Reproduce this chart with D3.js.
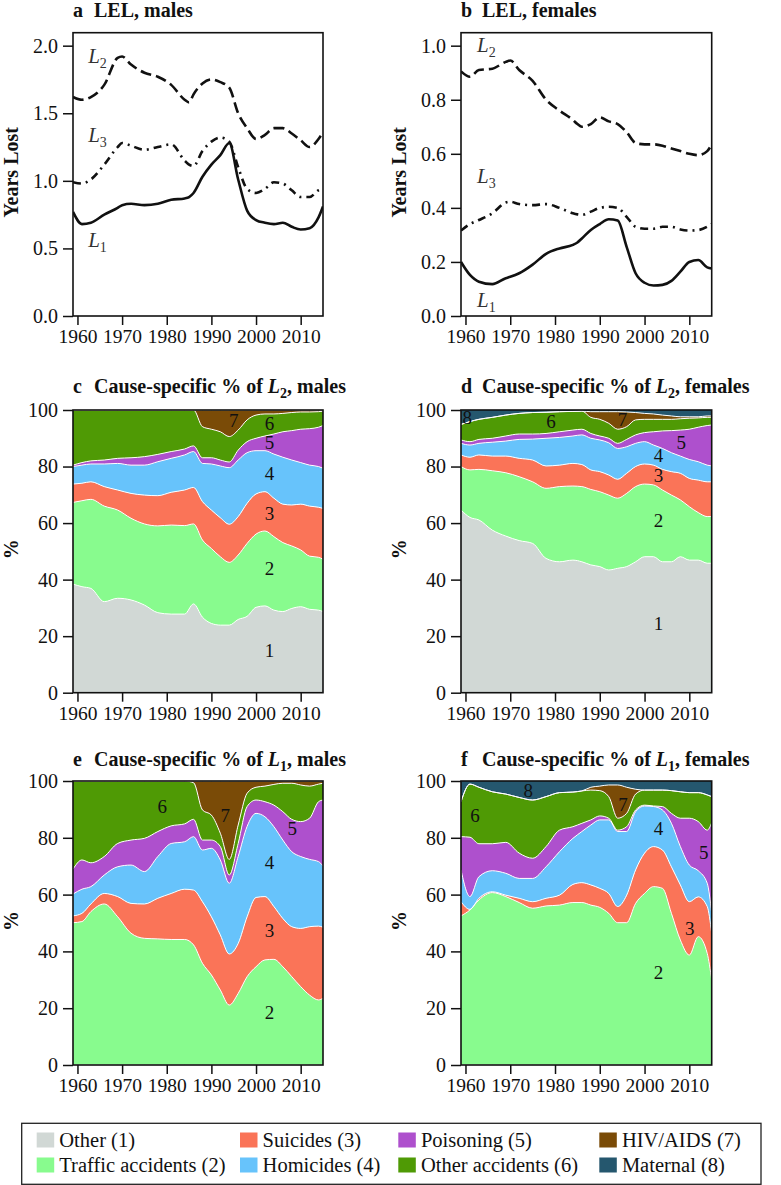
<!DOCTYPE html>
<html><head><meta charset="utf-8">
<script src="https://cdn.jsdelivr.net/npm/d3@7"></script>
<style>
body{margin:0;background:#fff}
</style></head><body>
<svg id="chart" width="781" height="1185" font-family="'Liberation Serif','DejaVu Serif',serif"></svg>
<script>
// ---------------- DATA ----------------
const yearsL = [1959,1961,1963,1966,1969,1970,1972,1975,1978,1981,1984,1985,1986,1988,1990,1992,1994,1996,1998,2000,2002,2004,2006,2008,2010,2012,2014,2015];
const L1_males   = [0.77,0.68,0.69,0.75,0.80,0.82,0.83,0.82,0.83,0.86,0.87,0.88,0.91,1.03,1.12,1.19,1.28,1.01,0.78,0.71,0.69,0.68,0.69,0.66,0.64,0.65,0.73,0.81];
const L2_males   = [1.62,1.60,1.62,1.71,1.91,1.92,1.86,1.80,1.77,1.71,1.60,1.58,1.64,1.72,1.75,1.73,1.69,1.50,1.39,1.31,1.34,1.39,1.39,1.35,1.30,1.25,1.31,1.36];
const L3_males   = [0.99,0.98,1.01,1.12,1.25,1.28,1.26,1.23,1.25,1.27,1.15,1.12,1.11,1.22,1.29,1.32,1.29,1.10,0.94,0.91,0.94,0.99,0.98,0.93,0.88,0.88,0.93,0.94];
const L1_females = [0.200,0.152,0.127,0.118,0.140,0.145,0.158,0.190,0.230,0.250,0.263,0.272,0.287,0.318,0.340,0.358,0.353,0.256,0.158,0.123,0.113,0.115,0.130,0.164,0.200,0.207,0.180,0.176];
const L2_females = [0.905,0.885,0.910,0.915,0.940,0.945,0.910,0.870,0.800,0.760,0.725,0.710,0.700,0.710,0.735,0.720,0.710,0.680,0.640,0.635,0.635,0.630,0.620,0.610,0.600,0.595,0.610,0.635];
const L3_females = [0.316,0.340,0.355,0.380,0.420,0.423,0.414,0.410,0.414,0.400,0.380,0.376,0.374,0.386,0.400,0.404,0.400,0.367,0.330,0.323,0.323,0.330,0.330,0.320,0.316,0.318,0.330,0.340];

const yearsS = [1959,1961,1963,1966,1969,1972,1975,1978,1981,1984,1986,1988,1990,1992,1994,1996,1998,2000,2002,2004,2006,2008,2010,2012,2014,2015];
const causeKeys  = ["other","traffic","suicides","homicides","poisoning","otheracc","hiv","maternal"];
const causeNames = ["Other (1)","Traffic accidents (2)","Suicides (3)","Homicides (4)","Poisoning (5)","Other accidents (6)","HIV/AIDS (7)","Maternal (8)"];

// cause-specific % of L2, males (rows follow causeKeys)
const sharesL2_males = [
 [38.4,37.5,36.9,32.2,33.4,32.8,31.0,28.3,27.8,27.8,31.4,26.7,24.5,23.9,23.9,25.9,27.0,30.2,30.7,29.2,28.7,29.8,30.4,29.5,29.2,28.7],
 [28.9,30.4,31.5,33.8,31.2,28.9,28.7,30.7,31.5,31.3,28.3,27.3,26.5,24.2,22.2,22.8,25.8,25.9,26.5,26.0,24.4,22.1,20.1,18.8,18.7,18.5],
 [6.5,6.2,6.2,6.9,7.1,8.8,10.2,10.7,11.6,12.6,12.9,13.6,13.6,13.8,13.5,13.6,14.2,14.2,13.9,13.6,13.6,14.5,16.2,17.7,17.7,18.0],
 [6.2,6.4,6.3,8.0,9.4,10.0,10.6,12.0,12.0,12.4,12.7,13.5,16.3,18.3,20.0,20.0,17.9,15.3,14.5,15.6,16.6,15.9,14.7,14.5,14.4,14.2],
 [0.5,0.9,1.1,1.4,1.8,2.6,3.0,2.6,2.4,2.1,2.0,2.0,2.2,2.1,2.0,3.5,3.9,4.4,5.2,7.1,9.0,10.4,11.8,12.9,13.9,15.1],
 [19.5,18.6,18.0,17.7,17.1,16.9,16.5,15.7,14.7,13.8,12.7,11.0,10.1,10.0,9.0,7.1,7.7,8.2,7.8,7.1,6.5,6.4,6.1,5.9,5.5,5.1],
 [0,0,0,0,0,0,0,0,0,0,0,5.9,6.8,7.7,9.4,7.1,3.5,1.8,1.4,1.4,1.2,0.9,0.7,0.7,0.6,0.4],
 [0,0,0,0,0,0,0,0,0,0,0,0,0,0,0,0,0,0,0,0,0,0,0,0,0,0]
];
// cause-specific % of L2, females
const sharesL2_females = [
 [64.6,62.0,61.1,57.5,55.4,53.8,52.8,47.5,46.3,46.9,46.3,45.2,44.6,43.4,44.0,44.6,46.3,48.1,48.1,46.3,46.3,48.1,46.9,46.9,45.8,45.8],
 [15.4,16.8,17.9,21.0,22.4,22.6,21.8,24.8,26.6,26.2,26.6,26.7,26.5,26.5,24.8,25.9,26.6,25.7,25.4,25.4,23.6,20.1,18.9,16.8,16.5,16.5],
 [4.1,4.5,5.1,5.2,5.9,6.5,7.7,7.9,7.6,8.0,7.8,6.9,7.1,7.1,6.7,7.1,7.1,7.1,7.0,7.3,8.3,9.4,10.0,11.5,12.3,12.3],
 [4.1,4.3,4.1,4.9,5.3,6.7,7.4,9.8,9.8,9.7,10.5,11.2,11.2,11.4,10.9,9.4,8.2,7.9,7.1,7.4,6.7,6.1,6.7,6.5,5.9,5.6],
 [1.2,1.2,1.4,1.4,1.8,1.9,1.8,1.7,2.0,2.1,2.0,1.7,1.4,1.6,1.8,2.6,3.0,3.2,4.7,6.2,7.8,9.2,10.7,12.2,14.0,14.5],
 [5.5,7.1,7.1,7.4,7.4,7.3,7.6,7.5,7.1,6.6,6.4,5.7,5.9,5.3,5.0,4.5,5.3,4.7,4.4,4.1,4.0,4.0,3.9,3.3,2.9,2.7],
 [0,0,0,0,0,0,0,0,0,0,0,2.0,2.7,4.1,6.2,5.2,2.6,2.1,1.9,1.5,1.2,0.7,0.5,0.4,0.5,0.5],
 [5.1,4.1,3.3,2.6,1.8,1.2,0.9,0.8,0.6,0.5,0.4,0.6,0.6,0.6,0.6,0.7,0.9,1.2,1.4,1.8,2.1,2.4,2.4,2.4,2.1,2.1]
];
// cause-specific % of L1, males
const sharesL1_males = [
 [0,0,0,0,0,0,0,0,0,0,0,0,0,0,0,0,0,0,0,0,0,0,0,0,0,0],
 [50.1,50.5,54.0,56.7,52.2,46.4,44.6,44.4,44.2,44.2,42.3,35.8,31.7,26.4,21.1,25.2,31.1,34.6,37.0,37.2,34.6,31.1,27.6,24.6,22.9,23.5],
 [2.4,2.9,2.7,3.7,7.1,10.5,12.1,14.3,16.2,17.7,19.3,21.7,20.5,19.4,18.0,17.6,21.1,24.4,22.3,18.6,17.0,17.6,20.5,24.1,26.0,25.0],
 [7.7,8.5,6.1,6.5,10.5,13.5,11.4,14.7,17.6,16.7,18.8,18.2,24.1,26.4,24.9,30.6,31.8,29.6,28.1,28.1,27.6,26.4,25.3,23.7,22.7,21.6],
 [8.7,10.3,8.4,6.5,8.2,8.8,11.7,8.8,6.2,6.3,6.1,3.5,2.9,4.7,2.9,4.6,7.0,4.7,5.3,7.6,10.0,11.4,12.3,14.5,21.1,23.2],
 [31.1,27.8,28.8,26.6,22.0,20.8,20.2,17.8,15.8,15.1,12.9,10.6,8.8,4.7,5.5,6.5,4.7,4.5,5.5,7.3,10.0,12.7,12.9,11.3,6.2,5.9],
 [0,0,0,0,0,0,0,0,0,0,0.6,10.2,12.0,18.4,27.6,15.5,4.3,2.2,1.8,1.2,0.8,0.8,1.4,1.8,1.1,0.8],
 [0,0,0,0,0,0,0,0,0,0,0,0,0,0,0,0,0,0,0,0,0,0,0,0,0,0]
];
// cause-specific % of L1, females
const sharesL1_females = [
 [0,0,0,0,0,0,0,0,0,0,0,0,0,0,0,0,0,0,0,0,0,0,0,0,0,0],
 [52.5,54.6,58.1,60.7,59.3,57.2,55.2,56.0,56.3,57.2,57.2,56.3,55.5,53.4,50.1,50.1,56.9,60.4,62.8,62.2,53.4,44.0,38.7,45.2,39.3,29.9],
 [5.0,0.2,0.6,0.3,0.5,1.5,2.3,2.7,3.5,6.4,7.0,7.1,6.7,7.0,5.7,9.7,11.8,14.2,14.1,13.5,16.4,19.4,18.8,14.0,16.5,16.5],
 [11.2,4.5,7.6,7.4,7.7,7.0,8.2,11.1,15.3,16.2,18.0,21.1,24.1,25.9,26.4,22.4,20.5,16.6,14.1,14.1,15.3,13.5,12.9,9.2,8.2,7.0],
 [11.7,20.9,11.6,9.5,10.9,8.9,7.1,7.1,7.6,4.1,2.9,1.8,1.4,0.6,0.5,1.7,0.6,0.3,0.2,1.2,3.5,10.0,16.5,17.3,18.7,31.9],
 [12.3,18.7,19.9,18.3,17.0,19.6,20.5,17.6,13.2,12.2,11.4,10.5,8.9,7.6,4.2,4.7,5.6,5.3,5.6,5.8,8.0,9.3,9.0,10.2,12.4,9.2],
 [0,0,0,0,0,0,0,0,0,0,0,1.0,1.6,4.1,11.7,9.2,1.7,0,0,0,0,0,0,0,0,0],
 [7.3,1.1,2.2,3.8,4.6,5.8,6.7,5.5,4.1,3.9,3.5,2.2,1.8,1.4,1.4,2.2,2.9,3.2,3.2,3.2,3.4,3.8,4.1,4.1,4.9,5.5]
];

const xTicks = [1960,1970,1980,1990,2000,2010];
const yTicksA = [0,0.5,1.0,1.5,2.0];
const yTicksB = [0,0.2,0.4,0.6,0.8,1.0];
const yTicksPct = [0,20,40,60,80,100];

// ---------------- STYLE / LAYOUT ----------------
const SERIF = "'Liberation Serif','DejaVu Serif',serif";
const colors = {other:"#d1d8d5",traffic:"#88fb8e",suicides:"#fa7458",homicides:"#67c3fb",
  poisoning:"#ae50cd",otheracc:"#4f9a05",hiv:"#7a4b07",maternal:"#25576e"};
const cols = [{x0:73,x1:323},{x0:461,x1:711.7}];
const rows = [{y0:32.7,y1:316,tb:17},{y0:410,y1:692.7,tb:393.3},{y0:781,y1:1065,tb:765.7}];
const FONT_TICK = 19.5, FONT_YT = 20;

const svg = d3.select("#chart");
const xDomain = [1959,2015];

function frame(p){
  const c = cols[p.col], r = rows[p.row];
  const x = d3.scaleLinear().domain(xDomain).range([c.x0,c.x1]);
  const g = svg.append("g");
  const clipId = "clip"+p.id;
  svg.append("clipPath").attr("id",clipId).append("rect")
     .attr("x",c.x0).attr("y",r.y0).attr("width",c.x1-c.x0).attr("height",r.y1-r.y0);
  const plot = g.append("g").attr("clip-path",`url(#${clipId})`);
  return {x, g, plot, c, r};
}
function axes(F, y, yTicks, fmt, ytitle){
  const {x,g,c,r} = F;
  const ax = g.append("g").attr("transform",`translate(0,${r.y1})`)
    .call(d3.axisBottom(x).tickValues(xTicks).tickFormat(d3.format("d")).tickSize(9).tickPadding(4.5));
  ax.attr("font-family",SERIF);
  ax.select(".domain").remove();
  ax.selectAll("line").attr("stroke","#111").attr("stroke-width",1.5);
  ax.selectAll("text").attr("font-size",FONT_TICK).attr("fill","#111");
  const ay = g.append("g").attr("transform",`translate(${c.x0},0)`)
    .call(d3.axisLeft(y).tickValues(yTicks).tickFormat(fmt).tickSize(10).tickPadding(5));
  ay.attr("font-family",SERIF);
  ay.select(".domain").remove();
  ay.selectAll("line").attr("stroke","#111").attr("stroke-width",1.5);
  ay.selectAll("text").attr("font-size",FONT_YT).attr("fill","#111");
  g.append("rect").attr("x",c.x0).attr("y",r.y0).attr("width",c.x1-c.x0).attr("height",r.y1-r.y0)
    .attr("fill","none").attr("stroke","#111").attr("stroke-width",1.6);
  if (ytitle){
    g.append("text").attr("transform",`translate(${c.x0-55},${(r.y0+r.y1)/2-2}) rotate(-90)`)
      .attr("text-anchor","middle").attr("font-weight","bold").attr("font-size",20).attr("fill","#111").text(ytitle);
  }
}
function title(F, letter, parts){
  const {c,r,g} = F;
  g.append("text").attr("x",c.x0).attr("y",r.tb).attr("font-weight","bold").attr("font-size",20).attr("fill","#111").text(letter);
  const t = g.append("text").attr("x",c.x0+21).attr("y",r.tb).attr("font-weight","bold").attr("font-size",20).attr("fill","#111");
  parts.forEach(pt=>{
    const s = t.append("tspan").text(pt.t);
    if (pt.i) s.attr("font-style","italic");
    if (pt.sub) s.attr("font-size",14).attr("dy",5);
    if (pt.after) s.attr("dy",-5);
  });
}

// ---------- line panels ----------
const linePanels = [
  {id:"a", col:0,row:0, letter:"a", title:"LEL, males", ymax:2.096, ticks:yTicksA,
   series:[{v:L2_males,dash:"11,5"},{v:L3_males,dash:"8,5,2,5"},{v:L1_males,dash:null}],
   labels:[{n:"2",yr:1962.4,v:1.87},{n:"3",yr:1962.4,v:1.29},{n:"1",yr:1962.4,v:0.513}]},
  {id:"b", col:1,row:0, letter:"b", title:"LEL, females", ymax:1.048, ticks:yTicksB,
   series:[{v:L2_females,dash:"11,5"},{v:L3_females,dash:"8,5,2,5"},{v:L1_females,dash:null}],
   labels:[{n:"2",yr:1962.6,v:0.978},{n:"3",yr:1962.6,v:0.491},{n:"1",yr:1962.6,v:0.034}]}
];
linePanels.forEach(p=>{
  const F = frame(p);
  const y = d3.scaleLinear().domain([0,p.ymax]).range([F.r.y1,F.r.y0]);
  const line = d3.line().x((d,i)=>F.x(yearsL[i])).y(d=>y(d)).curve(d3.curveMonotoneX);
  p.series.forEach(s=>{
    F.plot.append("path").attr("d",line(s.v)).attr("fill","none").attr("stroke","#111")
      .attr("stroke-width",2.6).attr("stroke-dasharray",s.dash);
  });
  p.labels.forEach(l=>{
    const t = F.g.append("text").attr("x",F.x(l.yr)).attr("y",y(l.v)).attr("font-size",21).attr("fill","#333");
    t.append("tspan").attr("font-style","italic").text("L");
    t.append("tspan").attr("font-size",14).attr("dy",5).text(l.n);
  });
  axes(F,y,p.ticks,d3.format(".1f"),"Years Lost");
  title(F,p.letter,[{t:p.title}]);
});

// ---------- stacked panels ----------
const stackPanels = [
  {id:"c",col:0,row:1,letter:"c",L:"2",sex:"males",shares:sharesL2_males,
   labels:[["7",1995,96.5],["6",2003,95.3],["5",2003,88.5],["4",2003,77.7],["3",2003,63.5],["2",2003,44],["1",2003,15]]},
  {id:"d",col:1,row:1,letter:"d",L:"2",sex:"females",shares:sharesL2_females,
   labels:[["8",1960.4,97.4],["6",1979.1,95.9],["7",1995.1,96.7],["5",2008.2,88.4],["4",2003.1,84.1],["3",2003.1,77],["2",2003.1,61.1],["1",2003.1,24.5]]},
  {id:"e",col:0,row:2,letter:"e",L:"1",sex:"males",shares:sharesL1_males,
   labels:[["6",1979,91.1],["7",1993.1,88],["5",2008.1,83.3],["4",2003,71.5],["3",2003,47.4],["2",2003,18.4]]},
  {id:"f",col:1,row:2,letter:"f",L:"1",sex:"females",shares:sharesL1_females,
   labels:[["8",1974,96.8],["6",1962.1,88],["7",1995.2,91.9],["4",2003.1,83.3],["5",2013.2,75],["3",2010.1,48],["2",2003.1,32.5]]}
];
stackPanels.forEach(p=>{
  const F = frame(p);
  const y = d3.scaleLinear().domain([0,100]).range([F.r.y1,F.r.y0]);
  const table = yearsS.map((yr,i)=>{
    const o = {year:yr};
    causeKeys.forEach((k,j)=>o[k]=p.shares[j][i]);
    return o;
  });
  const series = d3.stack().keys(causeKeys)(table);
  const area = d3.area().x(d=>F.x(d.data.year)).y0(d=>y(d[0])).y1(d=>y(d[1])).curve(d3.curveMonotoneX);
  const top = d3.line().x(d=>F.x(d.data.year)).y(d=>y(d[1])).curve(d3.curveMonotoneX);
  F.plot.selectAll("path.a").data(series).join("path").attr("class","a")
    .attr("d",area).attr("fill",d=>colors[d.key]).attr("stroke",d=>colors[d.key]).attr("stroke-width",0.3);
  F.plot.selectAll("path.l").data(series.slice(0,-1)).join("path").attr("class","l")
    .attr("d",top).attr("fill","none").attr("stroke","#fff").attr("stroke-width",1);
  F.g.selectAll("text.n").data(p.labels).join("text").attr("class","n")
    .attr("x",d=>F.x(d[1])).attr("y",d=>y(d[2])).attr("dy","0.35em").attr("text-anchor","middle")
    .attr("font-size",19).attr("fill","#111").text(d=>d[0]);
  axes(F,y,yTicksPct,d3.format("d"),"%");
  title(F,p.letter,[{t:"Cause-specific % of "},{t:"L",i:true},{t:p.L,sub:true},{t:", "+p.sex,after:true}]);
});

// ---------- legend ----------
const leg = svg.append("g");
leg.append("rect").attr("x",21.7).attr("y",1123.3).attr("width",761-21.7).attr("height",61)
  .attr("fill","#fff").attr("stroke","#222").attr("stroke-width",1.3);
const legCols = [36.7,240,398.3,599.3], legRows = [1140,1165];
causeKeys.forEach((k,i)=>{
  const cx = legCols[Math.floor(i/2)], cy = legRows[i%2];
  leg.append("rect").attr("x",cx).attr("y",cy-7.5).attr("width",17.5).attr("height",15).attr("fill",colors[k]);
  leg.append("text").attr("x",cx+22.6).attr("y",cy+7).attr("font-size",20.5).attr("fill","#111").text(causeNames[i]);
});

svg.selectAll("text").style("font-family",SERIF);
</script></body></html>
